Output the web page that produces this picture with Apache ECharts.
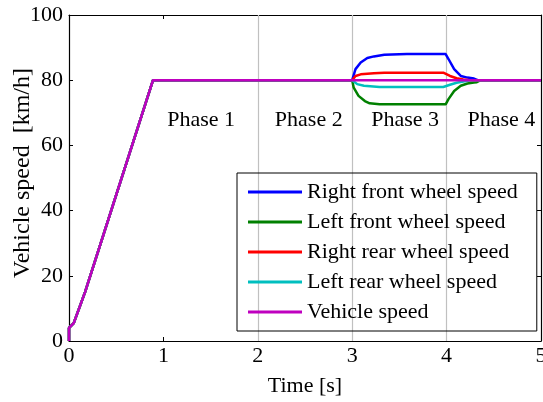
<!DOCTYPE html>
<html>
<head>
<meta charset="utf-8">
<script src="https://cdn.jsdelivr.net/npm/echarts@6/dist/echarts.min.js"></script>
<style>
  html, body { margin: 0; padding: 0; background: #fff; }
  #chart { width: 543px; height: 402px; }
</style>
</head>
<body>
<div id="chart"></div>
<script>
// acceleration ramp shared by every curve, [time s, speed km/h]
const ramp = [[0, 0], [0, 4], [0.05, 5.5], [0.17, 15], [0.89, 80], [3, 80]];
const tail = [[5, 80]];

// phase 3 deviations
const rightFront = [[3.035, 83.4], [3.09, 85.4], [3.16, 86.8], [3.23, 87.3], [3.34, 87.8], [3.58, 88], [3.99, 88],
  [4.02, 86.5], [4.08, 83.4], [4.15, 81.3], [4.22, 80.8], [4.29, 80.5], [4.33, 80]];
const leftFront = [[3.016, 77.7], [3.067, 75.2], [3.134, 73.6], [3.185, 72.9], [3.29, 72.6], [3.99, 72.6],
  [4.02, 74.2], [4.08, 76.7], [4.15, 78.3], [4.22, 79.0], [4.29, 79.3], [4.32, 79.4], [4.36, 80]];
const rightRear = [[3.035, 81.3], [3.09, 81.8], [3.23, 82.1], [3.34, 82.3], [3.965, 82.3],
  [4.036, 81.3], [4.106, 80.6], [4.177, 80.2], [4.25, 80]];
const leftRear = [[3.053, 78.8], [3.124, 78.3], [3.29, 77.9], [3.965, 77.9],
  [4.036, 78.6], [4.106, 79.2], [4.177, 79.6], [4.25, 80]];
const vehicle = [];

const seriesNames = ['Right front wheel speed', 'Left front wheel speed', 'Right rear wheel speed',
  'Left rear wheel speed', 'Vehicle speed'];
const seriesColors = ['#0000ff', '#008000', '#ff0000', '#00bfbf', '#bf00bf'];

const phaseLabels = [[1.4, 67.7, 'Phase 1'], [2.54, 67.7, 'Phase 2'], [3.56, 67.7, 'Phase 3'], [4.58, 67.7, 'Phase 4']];
const phaseBounds = [2, 3, 4];

const xTicks = { min: 0, max: 5, interval: 1 };
const yTicks = { min: 0, max: 100, interval: 20 };

const font = 'Liberation Serif, Times New Roman, serif';

const chart = echarts.init(document.getElementById('chart'));

const curves = [rightFront, leftFront, rightRear, leftRear, vehicle].map((pts, i) => ({
  name: seriesNames[i],
  type: 'line',
  xAxisIndex: 0,
  yAxisIndex: 0,
  symbol: 'none',
  data: ramp.concat(pts, tail),
  lineStyle: { color: seriesColors[i], width: 2.5 },
  itemStyle: { color: seriesColors[i] },
  z: 3 + i,
  markLine: i === 0 ? {
    silent: true,
    symbol: 'none',
    label: { show: false },
    lineStyle: { color: '#c0c0c0', type: 'solid', width: 1.2 },
    data: phaseBounds.map(v => ({ xAxis: v })),
    z: 1
  } : undefined
}));

const axisCommon = {
  axisLine: { show: true, onZero: false, lineStyle: { color: '#000', width: 1.2 } },
  axisTick: { show: true, inside: true, length: 4, lineStyle: { color: '#000' } },
  splitLine: { show: false }
};

const option = {
  animation: false,
  grid: { left: 69, right: 2, top: 15, bottom: 61, outerBoundsMode: 'none' },
  xAxis: [
    Object.assign({
      type: 'value', position: 'bottom', ...xTicks,
      name: 'Time [s]', nameLocation: 'middle', nameGap: 34,
      nameTextStyle: { fontFamily: font, fontSize: 22, color: '#000' },
      axisLabel: { fontFamily: font, fontSize: 22, color: '#000', margin: 4 }
    }, axisCommon),
    Object.assign({ type: 'value', position: 'top', ...xTicks, axisLabel: { show: false } }, axisCommon)
  ],
  yAxis: [
    Object.assign({
      type: 'value', position: 'left', ...yTicks,
      axisLabel: { fontFamily: font, fontSize: 22, color: '#000', margin: 6 }
    }, axisCommon),
    Object.assign({ type: 'value', position: 'right', ...yTicks, axisLabel: { show: false } }, axisCommon)
  ],
  legend: {
    data: seriesNames,
    icon: 'rect',
    orient: 'vertical',
    left: 237,
    top: 173,
    itemWidth: 54,
    itemHeight: 3,
    itemGap: 8,
    itemTextGap: 6,
    padding: [8, 19, 8, 11],
    borderColor: '#000',
    borderWidth: 1,
    textStyle: { fontFamily: font, fontSize: 22, color: '#000', lineHeight: 22 }
  },
  graphic: [{
    type: 'text',
    x: 23,
    y: 173,
    rotation: Math.PI / 2,
    style: {
      text: 'Vehicle speed  [km/h]',
      font: '24px ' + font,
      fill: '#000',
      align: 'center',
      verticalAlign: 'middle'
    }
  }],
  series: curves.concat([{
    name: 'phases',
    type: 'scatter',
    symbolSize: 0,
    silent: true,
    itemStyle: { opacity: 1 },
    data: phaseLabels,
    label: {
      show: true,
      position: 'inside',
      formatter: p => p.value[2],
      fontFamily: font,
      fontSize: 22,
      color: '#000',
      opacity: 1
    }
  }])
};

chart.setOption(option);
</script>
</body>
</html>
